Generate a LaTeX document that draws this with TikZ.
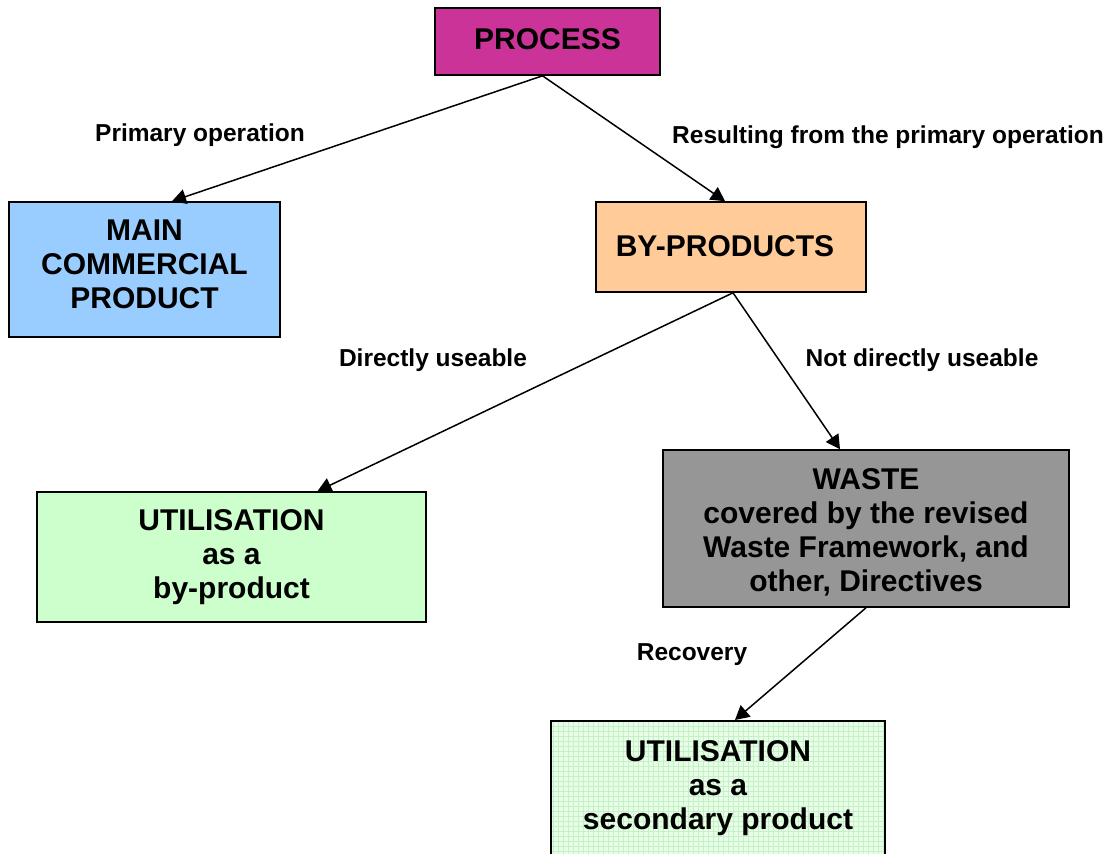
\documentclass[tikz,border=0pt]{standalone}
\usepackage{fontspec}
\setmainfont{Liberation Sans}
\usetikzlibrary{arrows.meta,calc}
\definecolor{procc}{HTML}{CC3399}
\definecolor{mainc}{HTML}{99CCFF}
\definecolor{bypc}{HTML}{FFCC99}
\definecolor{utilc}{HTML}{CCFFCC}
\definecolor{wastec}{HTML}{969696}
\definecolor{util2c}{HTML}{E6FFE6}
\definecolor{gridc}{HTML}{C8F0C8}
\tikzset{
  box/.style={draw=black, line width=1.6pt, rectangle, inner sep=0pt, align=center,
    font=\bfseries\fontsize{30}{34}\selectfont},
  lbl/.style={font=\bfseries\fontsize{24.5}{28}\selectfont, inner sep=0pt},
  conn/.style={line width=1.5pt, -{Triangle[length=14pt,width=15pt]}},
}
\begin{document}
\begin{tikzpicture}[x=1pt,y=-1pt]
\clip (0,0) rectangle (1117,854);
\useasboundingbox (0,0) rectangle (1117,854);
\fill[white] (0,0) rectangle (1117,854);

\node[box, fill=procc, minimum width=225, minimum height=67] (proc) at (547.5,41.5) {\raisebox{4pt}{PROCESS}};
\node[box, fill=mainc, minimum width=271, minimum height=135] (main) at (144.5,269.5) {MAIN\\COMMERCIAL\\PRODUCT\\[-24pt]\mbox{}};
\node[box, fill=bypc, minimum width=270, minimum height=90] (byp) at (731,247) {\raisebox{2pt}{BY-PRODUCTS}\hspace*{12pt}};
\node[box, fill=utilc, minimum width=389, minimum height=130] (util1) at (231.5,557) {UTILISATION\\as a\\by-product};
\node[box, fill=wastec, minimum width=406, minimum height=157] (waste) at (866,528.5) {\rule{0pt}{29.5pt}WASTE\\covered by the revised\\Waste Framework, and\\other, Directives};
\node[box, fill=util2c, minimum width=334, minimum height=160, anchor=north,
  path picture={\draw[gridc, line width=0.5pt, step=5pt] (path picture bounding box.south west) grid (path picture bounding box.north east);}] (util2) at (718,720) {};
\node[align=center, inner sep=0pt, font=\bfseries\fontsize{30}{34}\selectfont] (util2text) at ([yshift=-68pt]util2.north) {UTILISATION\\as a\\secondary product};

\draw[conn] ([xshift=-5pt]proc.south) -- ([xshift=27.5pt]main.north);
\draw[conn] ([xshift=-5pt]proc.south) -- ([xshift=-6pt]byp.north);
\draw[conn] ([xshift=2pt]byp.south) -- ([xshift=86pt]util1.north);
\draw[conn] ([xshift=2pt]byp.south) -- ([xshift=-26pt]waste.north);
\draw[conn] (waste.south) -- ([xshift=17pt]util2.north);

\node[lbl] (l1) at (200,135) {Primary operation};
\node[lbl] (l2) at (888,137) {Resulting from the primary operation};
\node[lbl] (l3) at (433,360) {Directly useable};
\node[lbl] (l4) at (922,360) {Not directly useable};
\node[lbl] (l5) at (692,655) {Recovery};
\end{tikzpicture}
\end{document}
